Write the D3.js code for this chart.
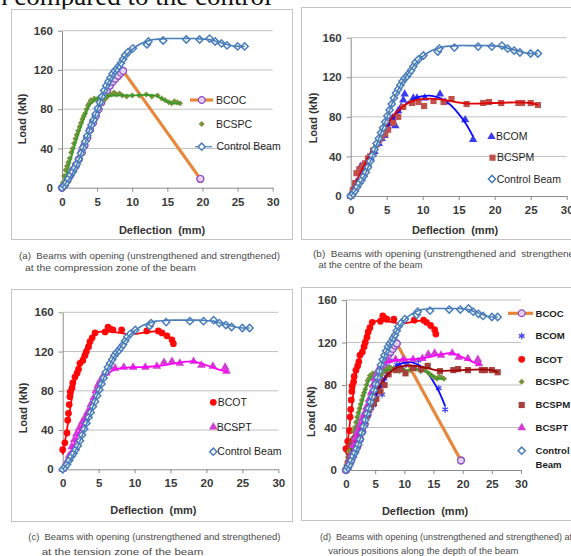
<!DOCTYPE html>
<html><head><meta charset="utf-8">
<script src="https://cdn.jsdelivr.net/npm/d3@7"></script>
<style>
body{margin:0;background:#fff;overflow:hidden}
svg{display:block;font-family:"Liberation Sans",Arial,sans-serif}
</style></head><body>
<svg id="fig" width="571" height="556"></svg>
<script>
// axis ticks
const xTicks = [0, 5, 10, 15, 20, 25, 30];
const yTicks = [0, 40, 80, 120, 160];

// [deflection mm, load kN]
const controlBeam = [[0,0],[0.3,2],[0.6,5],[0.9,9],[1.2,13],[1.5,16],[1.8,20],[2.1,24],[2.4,29],[2.7,35],[3.0,41],[3.3,47],[3.6,53],[3.9,58],[4.2,64],[4.5,69],[4.8,75],[5.1,81],[5.4,87],[5.7,93],[6.0,99],[6.3,104],[6.6,108],[6.9,112],[7.2,116],[7.5,119],[7.8,121],[8.1,124],[8.4,127],[8.7,131],[9.0,135],[9.4,138],[10.1,142],[12.1,146],[12.3,149],[14.4,150],[17.7,151],[19.6,151],[21.0,152],[21.8,149],[22.7,147],[23.5,145],[25.0,144],[26.0,144]];
const controlLine = [[0,0],[1,9],[2,22],[3,40],[4,60],[5,79],[6,98],[7,113],[8,124],[9,134],[10,141],[11,146],[12,149],[13,151],[15,152],[17,152],[19,152],[21,151],[22,149],[23,147],[24,145],[25,144],[26,144]];

const bcoc = [[0,0],[0.4,3],[0.8,8],[1.2,13],[1.6,18],[2.0,23],[2.4,29],[2.8,36],[3.2,43],[3.6,51],[4.0,59],[4.4,66],[4.8,73],[5.2,80],[5.6,87],[6.0,93],[6.4,99],[6.8,104],[7.2,108],[7.6,111],[8.0,114],[8.4,117],[8.7,119],[19.7,9]];

const bcspc = [[0.1,5],[0.3,12],[0.5,18],[0.7,22],[0.9,26],[1.1,30],[1.3,36],[1.5,40],[1.7,45],[1.9,50],[2.1,54],[2.3,58],[2.5,62],[2.7,66],[2.9,70],[3.1,73],[3.3,76],[3.5,80],[3.7,84],[3.9,86],[4.1,89],[4.3,88],[4.6,91],[4.9,90],[5.3,92],[5.7,93],[6.1,90],[6.5,93],[7.0,95],[7.4,97],[7.8,95],[8.2,96],[8.6,94],[9.2,93],[10,94],[11,94],[12,95],[12.8,93],[13.6,94],[14.2,91],[14.7,89],[15.2,87],[15.6,86],[16,88],[16.4,87],[16.8,86]];
const bcspcTrend = [[0,0],[0.9,20],[1.6,38],[2.3,54],[3.0,68],[3.7,81],[4.4,88],[5.2,92],[6.1,93.5],[8,94],[10,94],[12,94.5],[13.2,94],[14.2,91],[15,88],[15.8,86],[16.8,86]];

const bcom = [[0,0],[0.1,3],[0.4,8],[0.8,14],[1.1,26],[1.4,30],[1.7,24],[2.2,31],[2.4,33],[2.8,38],[3.1,43],[3.3,45],[3.9,53],[4.3,58],[4.7,61],[5.0,70],[5.4,73],[5.8,79],[6.2,71],[6.6,86],[7.0,90],[7.3,97],[7.5,103],[8.7,99],[9.2,99],[10.3,99],[12.4,103],[13.1,95],[15.9,77],[17.0,57]];
const bcomTrend = [[0,0],[1,12],[2,27],[3,41],[4,55],[5,68],[6,79],[7,88],[8,95],[9,99],[10,101],[11,101.5],[12,100],[13,97],[14,91],[15,83],[16,73],[17,60]];

const bcspm = [[0,0],[0.3,6],[0.6,13],[0.8,23],[1.2,27],[1.6,30],[2.0,33],[2.4,38],[2.7,40],[3.1,46],[3.6,52],[4.0,57],[4.3,60],[4.8,63],[5.2,67],[5.9,74],[6.6,80],[7.3,90],[8.5,94],[9.4,95],[10.2,91],[11.5,96],[12.9,95],[14.0,98],[16.1,93],[18.4,94],[19.2,95],[20.9,94],[23.3,94],[23.8,94],[25.0,94],[26.0,92]];
const bcspmTrend = [[0,0],[1,18],[2,33],[3,47],[4,60],[5,71],[6,82],[7,89],[8,94],[9,97],[10,98],[11,98.5],[12,98],[13,97],[14,96],[15,94.5],[16,93.5],[18,93.5],[20,94],[22,94.5],[24,94.5],[25,94],[26,92]];

const bcot = [[0,20],[0.3,27],[0.6,37],[0.7,50],[0.8,57],[0.9,66],[1.0,74],[1.05,79],[1.3,83],[1.4,88],[1.7,94],[2.0,98],[2.2,102],[2.4,108],[2.8,111],[3.1,116],[3.3,120],[3.6,125],[3.8,130],[4.1,134],[4.5,139],[5.9,140],[6.3,145],[6.6,143],[7.0,142],[8.2,142],[11.7,141],[13.3,141],[13.8,139],[14.5,136],[15.2,132],[15.4,128]];
const bcotTrend = [[0,15],[0.5,36],[1,60],[1.5,82],[2,98],[2.5,110],[3,120],[3.5,128],[4,134],[4.5,138],[5,140],[6,140.5],[7,140],[8,139],[9,138],[10,138],[11,139],[12,140],[13,140.5],[14,139],[15,134],[15.5,130]];

const bcspt = [[0,0],[0.5,7],[0.9,14],[1.25,23],[1.6,30],[1.9,36],[2.3,42],[2.7,48],[3.1,53],[3.5,59],[3.9,66],[4.3,73],[4.6,80],[4.9,86],[5.2,90],[5.6,95],[6.1,98],[6.6,104],[7.3,103],[8.5,104],[9.8,104],[11.5,104],[13.1,105],[14.1,109],[15.2,110],[16.3,108],[18.2,110],[19.3,106],[20.9,105],[22.6,104],[22.8,100]];
const bcsptTrend = [[0,0],[1,16],[2,33],[3,50],[4,67],[5,83],[6,95],[7,101],[8,103],[10,104],[12,104.5],[14,106],[16,108.5],[18,110],[19,108.5],[20,106],[21,103.5],[22,101],[23,99]];

// marker / line looks
const st = {
  BCOC:  {type: d3.symbolCircle, size: 36, fill: '#e4d0f2', stroke: '#8a48c0', sw: 1.2, line: '#e8873a', lw: 3.2},
  BCSPC: {type: d3.symbolSquare, size: 18, rot: 45, fill: '#77933c', line: '#3a9a28', lw: 1.8},
  BCOM:  {type: d3.symbolTriangle, size: 30, fill: '#3a3af0', line: '#0a0aff', lw: 1.8},
  BCOMd: {type: d3.symbolAsterisk, size: 30, fill: 'none', stroke: '#4646f0', sw: 1.3, line: '#0a0aff', lw: 1.8},
  BCSPM: {type: d3.symbolSquare, size: 38, fill: '#c0504d', line: '#e00000', lw: 1.8},
  BCSPMd:{type: d3.symbolSquare, size: 38, fill: '#a6403d', line: '#a00000', lw: 1.8},
  BCOT:  {type: d3.symbolCircle, size: 36, fill: '#ff0a0a', line: '#ff0000', lw: 1.8},
  BCSPT: {type: d3.symbolTriangle, size: 32, fill: '#d23cd2', line: '#ff00ff', lw: 1.8},
  Control: {type: d3.symbolSquare, size: 26, rot: 45, fill: '#ffffff', stroke: '#4a7ebb', sw: 1.5, line: '#4a7ebb', lw: 1.6}
};

const panels = [
  {frame: [11, 9, 281, 230], xr: [62, 272.7], yr: [187.7, 30.7], ylab: [22, 119], xlab: [162, 234], lfs: 10.5, lfw: 'normal',
   series: [
     {s: st.BCOC, pts: bcoc, line: bcoc, linear: true},
     {s: st.BCSPC, pts: bcspc, line: bcspcTrend},
     {s: st.Control, pts: controlBeam, line: controlLine}],
   legend: [
     {s: st.BCOC, mx: 201.7, y: 100, tx: 216, t: ['BCOC'], seg: [190, 213]},
     {s: st.BCSPC, mx: 201.7, y: 124, tx: 216, t: ['BCSPC']},
     {s: st.Control, mx: 201.7, y: 146.7, tx: 216.5, t: ['Control Beam'], seg: [195, 212], thin: true}],
   caption: [{x: 19, y: 258.5, t: '(a)  Beams with opening (unstrengthened and strengthened)', w: 261},
             {x: 25, y: 270.5, t: 'at the compression zone of the beam', w: 171}]},
  {frame: [301, 7, 290, 232], xr: [350.7, 566.7], yr: [196, 37.7], ylab: [313.3, 118], xlab: [455, 234], lfs: 10.5, lfw: 'normal',
   series: [
     {s: st.BCOM, pts: bcom, line: bcomTrend},
     {s: st.BCSPM, pts: bcspm, line: bcspmTrend},
     {s: st.Control, pts: controlBeam, line: controlLine}],
   legend: [
     {s: st.BCOM, mx: 491.5, y: 136.7, tx: 496, t: ['BCOM']},
     {s: st.BCSPM, mx: 492.5, y: 157.7, tx: 497, t: ['BCSPM']},
     {s: st.Control, mx: 492, y: 179, tx: 496.7, t: ['Control Beam']}],
   caption: [{x: 313, y: 257, t: '(b)  Beams with opening (unstrengthened and  strengthened)', w: 270},
             {x: 318.5, y: 267.5, t: 'at the centre of the beam', w: 104}]},
  {frame: [11, 289, 281, 232], xr: [62.7, 278.3], yr: [469.3, 312.3], ylab: [23.3, 408], xlab: [153.3, 514], lfs: 10.5, lfw: 'normal',
   series: [
     {s: st.BCOT, pts: bcot, line: bcotTrend},
     {s: st.BCSPT, pts: bcspt, line: bcsptTrend},
     {s: st.Control, pts: controlBeam, line: controlLine}],
   legend: [
     {s: st.BCOT, mx: 213.3, y: 402.3, tx: 217.7, t: ['BCOT']},
     {s: st.BCSPT, mx: 213.3, y: 427, tx: 216.7, t: ['BCSPT']},
     {s: st.Control, mx: 213.3, y: 451.7, tx: 217.3, t: ['Control Beam']}],
   caption: [{x: 28.3, y: 540, t: '(c)  Beams with opening (unstrengthened and strengthened)', w: 252},
             {x: 41.7, y: 555, t: 'at the tension zone of the beam', w: 161.6}]},
  {frame: [301, 287, 290, 233], xr: [346, 521], yr: [470, 300], ylab: [311, 411.7], xlab: [425, 515], lfs: 9.6, lfw: 'bold',
   series: [
     {s: st.BCOC, pts: bcoc, line: bcoc, linear: true},
     {s: st.BCOMd, pts: bcom, line: bcomTrend},
     {s: st.BCOT, pts: bcot, line: bcotTrend},
     {s: st.BCSPC, pts: bcspc, line: bcspcTrend},
     {s: st.BCSPMd, pts: bcspm, line: bcspmTrend},
     {s: st.BCSPT, pts: bcspt, line: bcsptTrend},
     {s: st.Control, pts: controlBeam, line: controlLine}],
   legend: [
     {s: st.BCOC, mx: 521.7, y: 313.3, tx: 535.5, t: ['BCOC'], seg: [508, 533]},
     {s: st.BCOMd, mx: 521.7, y: 336, tx: 535.5, t: ['BCOM']},
     {s: st.BCOT, mx: 521.7, y: 359.3, tx: 535.5, t: ['BCOT']},
     {s: st.BCSPC, mx: 521.7, y: 381.7, tx: 535.5, t: ['BCSPC']},
     {s: st.BCSPMd, mx: 521.7, y: 405, tx: 535.5, t: ['BCSPM']},
     {s: st.BCSPT, mx: 521.7, y: 427.7, tx: 535.5, t: ['BCSPT']},
     {s: st.Control, mx: 521.7, y: 450.7, tx: 535.5, t: ['Control', 'Beam']}],
   caption: [{x: 320, y: 539.5, t: '(d)  Beams with opening (unstrengthened and strengthened) at', w: 252},
             {x: 328.3, y: 553.5, t: 'various positions along the depth of the beam', w: 190}]}
];

const svg = d3.select('#fig');

// cropped running text of the page above the figure
svg.append('text')
  .attr('x', -6).attr('y', 5)
  .style('font-family', '"Liberation Serif","Times New Roman",serif')
  .style('font-size', '27px')
  .attr('fill', '#111')
  .text('n compared to the control');

function marker(g, s, x, y) {
  g.append('path')
    .attr('d', d3.symbol(s.type, s.size)())
    .attr('transform', 'translate(' + x + ',' + y + ')' + (s.rot ? ' rotate(' + s.rot + ')' : ''))
    .attr('fill', s.fill)
    .attr('stroke', s.stroke || 'none')
    .attr('stroke-width', s.sw || 1);
}

panels.forEach(function (p) {
  const g = svg.append('g');
  g.append('rect')
    .attr('x', p.frame[0] + 0.5).attr('y', p.frame[1] + 0.5)
    .attr('width', p.frame[2]).attr('height', p.frame[3])
    .attr('fill', '#fff').attr('stroke', '#c4c4c4');

  const x = d3.scaleLinear().domain([0, 30]).range(p.xr);
  const y = d3.scaleLinear().domain([0, 160]).range(p.yr);

  // gridlines
  g.append('g').selectAll('line')
    .data(yTicks.filter(function (v) { return v > 0; }))
    .enter().append('line')
    .attr('x1', x(0)).attr('x2', x(30))
    .attr('y1', function (d) { return y(d); }).attr('y2', function (d) { return y(d); })
    .attr('stroke', '#c0c0c0');

  const xa = g.append('g')
    .attr('transform', 'translate(0,' + p.yr[0] + ')')
    .call(d3.axisBottom(x).tickValues(xTicks).tickSize(4).tickSizeOuter(0).tickPadding(6));
  const ya = g.append('g')
    .attr('transform', 'translate(' + p.xr[0] + ',0)')
    .call(d3.axisLeft(y).tickValues(yTicks).tickSize(4).tickSizeOuter(0).tickPadding(5));
  [xa, ya].forEach(function (a) {
    a.select('.domain').attr('stroke', '#8c8c8c');
    a.selectAll('.tick line').attr('stroke', '#8c8c8c');
    a.selectAll('text')
      .style('font-family', '"Liberation Sans",Arial,sans-serif')
      .style('font-size', '11.5px').style('font-weight', 'bold').attr('fill', '#3a3a3a');
  });

  // axis titles
  g.append('text')
    .attr('transform', 'translate(' + p.ylab[0] + ',' + p.ylab[1] + ') rotate(-90)')
    .attr('text-anchor', 'middle').attr('dy', '0.35em')
    .style('font-size', '11px').style('font-weight', 'bold').attr('fill', '#333')
    .text('Load (kN)');
  g.append('text')
    .attr('x', p.xlab[0]).attr('y', p.xlab[1])
    .attr('text-anchor', 'middle')
    .style('font-size', '11px').style('font-weight', 'bold').attr('fill', '#333')
    .attr('xml:space', 'preserve')
    .text('Deflection  (mm)');

  // series: markers then their line
  p.series.forEach(function (se) {
    const mk = g.append('g');
    se.pts.forEach(function (d) { marker(mk, se.s, x(d[0]), y(d[1])); });
    const ln = d3.line()
      .x(function (d) { return x(d[0]); })
      .y(function (d) { return y(d[1]); })
      .curve(se.linear ? d3.curveLinear : d3.curveCatmullRom.alpha(0.5));
    g.append('path')
      .attr('d', ln(se.line))
      .attr('fill', 'none')
      .attr('stroke', se.s.line)
      .attr('stroke-width', se.s.lw)
      .attr('stroke-linejoin', 'round');
    if (se.linear) {
      const mk2 = g.append('g');
      se.pts.forEach(function (d) { marker(mk2, se.s, x(d[0]), y(d[1])); });
    }
  });

  // legend
  p.legend.forEach(function (l) {
    if (l.seg) {
      g.append('line')
        .attr('x1', l.seg[0]).attr('x2', l.seg[1]).attr('y1', l.y).attr('y2', l.y)
        .attr('stroke', l.s.line).attr('stroke-width', l.thin ? 1.2 : l.s.lw);
    }
    marker(g, l.s, l.mx, l.y);
    l.t.forEach(function (t, i) {
      g.append('text')
        .attr('x', l.tx).attr('y', l.y + i * 13.6).attr('dy', '0.35em')
        .style('font-size', p.lfs + 'px').style('font-weight', p.lfw).attr('fill', '#1e1e1e')
        .text(t);
    });
  });

  // caption under the panel
  p.caption.forEach(function (c) {
    svg.append('text')
      .attr('x', c.x).attr('y', c.y)
      .attr('xml:space', 'preserve')
      .attr('textLength', c.w).attr('lengthAdjust', 'spacingAndGlyphs')
      .style('font-size', '9.8px').attr('fill', '#4a4a4a')
      .text(c.t);
  });
});
</script>
</body></html>
